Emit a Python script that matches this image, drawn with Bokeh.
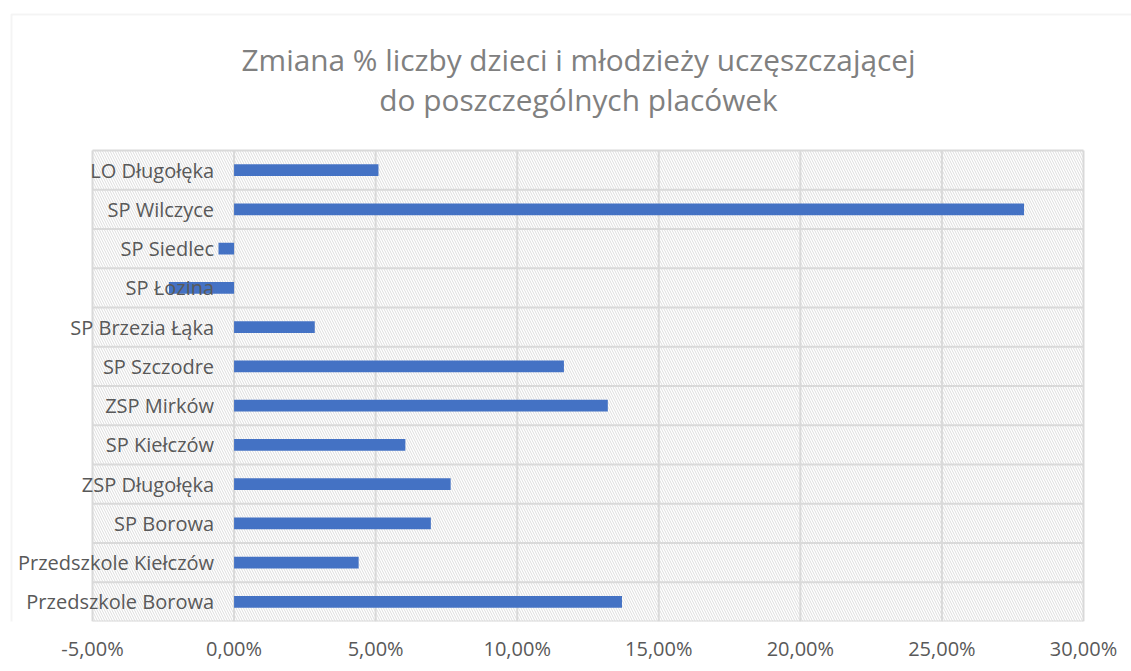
from bokeh.plotting import figure
from bokeh.models import (ColumnDataSource, LabelSet, Label, BoxAnnotation,
                          FixedTicker, CustomJSTickFormatter, Range1d)
from bokeh.core.properties import value
from bokeh.embed import file_html
from bokeh.resources import INLINE

categories = ["LO Długołęka", "SP Wilczyce", "SP Siedlec", "SP Łozina", "SP Brzezia Łąka",
              "SP Szczodre", "ZSP Mirków", "SP Kiełczów", "ZSP Długołęka", "SP Borowa",
              "Przedszkole Kiełczów", "Przedszkole Borowa"]
values = [5.1, 27.9, -0.55, -2.3, 2.85, 11.65, 13.2, 6.05, 7.65, 6.95, 4.4, 13.7]
title_lines = ["Zmiana % liczby dzieci i młodzieży uczęszczającej", "do poszczególnych placówek"]
x_min, x_max, x_step = -5, 30, 5

# ---- layout geometry (pixels) ----
W, H = 1131, 671
BOTTOM = 50                       # axis panel below the frame
PA_L, PA_R, PA_T = 92, 1083, 150  # plot-area edges inside the frame (frame top = 0)
PA_B = H - BOTTOM

n = len(categories)
ppx = (PA_R - PA_L) / (x_max - x_min)
ppy = (PA_B - PA_T) / n
x_start = x_min - PA_L / ppx
x_end = x_max + (W - PA_R) / ppx
y_lo, y_hi = -0.5, n - 0.5
y_end = y_hi + PA_T / ppy


def dx(px):
    return x_start + px / ppx


def dy(py):
    return y_end - py / ppy


ypos = [n - 1 - i for i in range(n)]
src = ColumnDataSource(dict(y=ypos, v=values, zero=[0] * n, cat=categories))

FONT = "Open Sans"
GRID = "#d9d9d9"
TXT = "#595959"

p = figure(width=W, height=H, output_backend="svg", toolbar_location=None,
           x_range=Range1d(x_start, x_end), y_range=Range1d(y_lo, y_end),
           min_border_left=0, min_border_right=0, min_border_top=0, min_border_bottom=BOTTOM)
p.title.visible = False
p.background_fill_color = "white"
p.border_fill_color = "white"
p.outline_line_color = None
p.xgrid.visible = False
p.ygrid.visible = False

# outer chart border
outer = BoxAnnotation(left=dx(11), top=dy(14), right=x_end + 10, bottom=y_lo - 10,
                      fill_alpha=0, line_color=GRID, line_width=2, level="image")
p.add_layout(outer)

# hatched plot area
bg = BoxAnnotation(left=x_min, right=x_max, bottom=y_lo, top=y_hi,
                   fill_color="white", fill_alpha=1, line_alpha=0,
                   hatch_pattern="\\", hatch_color="#dddddd", hatch_scale=5,
                   hatch_weight=1, level="image")
p.add_layout(bg)

ticks = list(range(x_min, x_max + 1, x_step))
bounds = [y_lo + k for k in range(n + 1)]

# grid lines (vertical at ticks, horizontal at category boundaries) + plot-area border
p.segment(x0=ticks, x1=ticks, y0=[y_lo] * len(ticks), y1=[y_hi] * len(ticks),
          line_color=GRID, line_width=2)
p.segment(x0=[x_min] * len(bounds), x1=[x_max] * len(bounds), y0=bounds, y1=bounds,
          line_color=GRID, line_width=2)

p.hbar(y="y", left="zero", right="v", height=0.3, source=src,
       fill_color="#4472c4", line_color=None)

# axes
p.yaxis.visible = False
p.xaxis.ticker = FixedTicker(ticks=ticks)
p.xaxis.formatter = CustomJSTickFormatter(code="return tick.toFixed(2).replace('.', ',') + '%';")
p.xaxis.axis_line_color = None
p.xaxis.major_tick_line_color = None
p.xaxis.minor_tick_line_color = None
p.xaxis.major_tick_out = 0
p.xaxis.major_tick_in = 0
p.xaxis.major_label_text_font = FONT
p.xaxis.major_label_text_font_size = "20px"
p.xaxis.major_label_text_color = TXT
p.xaxis.major_label_standoff = 13

labels = LabelSet(x="zero", y="y", text="cat", source=src, x_offset=-20,
                  text_align="right", text_baseline="middle",
                  text_font=value(FONT), text_font_size=value("20px"), text_color=TXT)
p.add_layout(labels)

for i, t in enumerate(title_lines):
    p.add_layout(Label(x=dx(578), y=dy(59 + 40 * i), text=t,
                       text_align="center", text_baseline="middle",
                       text_font=FONT, text_font_size="29.8px", text_color="#808080"))

open("out.html", "w").write(file_html(p, INLINE))
